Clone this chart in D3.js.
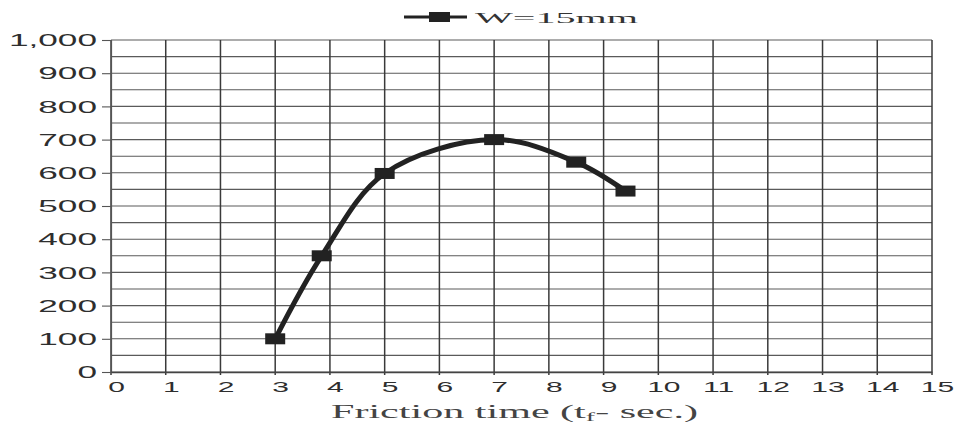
<!DOCTYPE html>
<html>
<head>
<meta charset="utf-8">
<script src="https://cdn.jsdelivr.net/npm/d3@7"></script>
<style>
	body { margin: 0; background: #fff; }
	svg { display: block; }
</style>
</head>
<body>
<div id="chart"></div>
<script>
// friction time (s) vs value, series W=15mm
const frictionTime = [3, 3.85, 5, 7, 8.5, 9.4]
const values = [100, 350, 598, 700, 632, 545]
const seriesName = 'W=15mm'
const xTicks = d3.range(0, 16)
const yTicks = d3.range(0, 1001, 100)
const yGrid = d3.range(0, 1001, 50)

const width = 961
const height = 427

const svg = d3.select('#chart')
	.append('svg')
	.attr('width', width)
	.attr('height', height)

const xScale = d3.scaleLinear()
	.domain([0, 15])
	.range([111, 932])

const yScale = d3.scaleLinear()
	.domain([0, 1000])
	.range([372, 40])

// horizontal grid
svg.append('g')
	.selectAll('line')
	.data(yGrid)
	.join('line')
	.attr('x1', xScale(0))
	.attr('x2', xScale(15))
	.attr('y1', d => yScale(d))
	.attr('y2', d => yScale(d))
	.attr('stroke', '#5a5a5a')
	.attr('stroke-width', 1.1)

// vertical grid
svg.append('g')
	.selectAll('line')
	.data(xTicks)
	.join('line')
	.attr('x1', d => xScale(d))
	.attr('x2', d => xScale(d))
	.attr('y1', yScale(1000))
	.attr('y2', yScale(0) + 3)
	.attr('stroke', '#3a3a3a')
	.attr('stroke-width', 1.5)

// y axis
const yAxis = svg.append('g')
	.attr('transform', 'translate(' + xScale(0) + ',0)')
	.call(d3.axisLeft(yScale)
		.tickValues(yTicks)
		.tickSize(9)
		.tickFormat(d3.format(',')))
yAxis.select('.domain').attr('stroke', '#555').attr('stroke-width', 1.2)
yAxis.selectAll('.tick line').attr('stroke', '#555').attr('stroke-width', 1.1)
yAxis.selectAll('.tick text')
	.attr('x', 0)
	.attr('dy', '0.36em')
	.attr('transform', 'translate(-14,0) scale(2.2,1)')
	.attr('fill', '#2e2e2e')
	.style('font-family', '"Liberation Sans", Arial, sans-serif')
	.style('font-size', '16px')

// x axis
const xAxis = svg.append('g')
	.attr('transform', 'translate(0,' + yScale(0) + ')')
	.call(d3.axisBottom(xScale)
		.tickValues(xTicks)
		.tickSize(0)
		.tickFormat(d3.format('d')))
xAxis.select('.domain').attr('stroke', '#444').attr('stroke-width', 1.5)
xAxis.selectAll('.tick text')
	.attr('y', 0)
	.attr('dy', 0)
	.attr('transform', 'translate(5,20) scale(2.0,1)')
	.attr('fill', '#2e2e2e')
	.style('font-family', '"Liberation Sans", Arial, sans-serif')
	.style('font-size', '15px')

// curve
const line = d3.line()
	.x((d, i) => xScale(frictionTime[i]))
	.y(d => yScale(d))
	.curve(d3.curveCatmullRom.alpha(0.5))

svg.append('path')
	.datum(values)
	.attr('d', line)
	.attr('fill', 'none')
	.attr('stroke', '#222')
	.attr('stroke-width', 5)
	.attr('stroke-linejoin', 'round')

svg.append('g')
	.selectAll('rect')
	.data(values)
	.join('rect')
	.attr('x', (d, i) => xScale(frictionTime[i]) - 10)
	.attr('y', d => yScale(d) - 5.5)
	.attr('width', 20)
	.attr('height', 11)
	.attr('fill', '#222')

// legend
const legend = svg.append('g')
legend.append('line')
	.attr('x1', 404)
	.attr('x2', 467)
	.attr('y1', 17)
	.attr('y2', 17)
	.attr('stroke', '#222')
	.attr('stroke-width', 3)
legend.append('rect')
	.attr('x', 429)
	.attr('y', 12)
	.attr('width', 21)
	.attr('height', 10)
	.attr('fill', '#222')
legend.append('text')
	.attr('x', 475)
	.attr('y', 23)
	.attr('textLength', 163)
	.attr('lengthAdjust', 'spacingAndGlyphs')
	.attr('fill', '#333')
	.style('font-family', '"Liberation Serif", "Times New Roman", serif')
	.style('font-size', '15px')
	.text(seriesName)

// x axis title
const title = svg.append('text')
	.attr('x', 331)
	.attr('y', 418)
	.attr('textLength', 367)
	.attr('lengthAdjust', 'spacingAndGlyphs')
	.attr('fill', '#444')
	.style('font-family', '"Liberation Serif", "Times New Roman", serif')
	.style('font-size', '18px')
title.append('tspan').text('Friction time (t')
title.append('tspan')
	.attr('dy', 3)
	.style('font-size', '12px')
	.text('f')
title.append('tspan')
	.attr('dy', -3)
	.text('- sec.)')
</script>
</body>
</html>
